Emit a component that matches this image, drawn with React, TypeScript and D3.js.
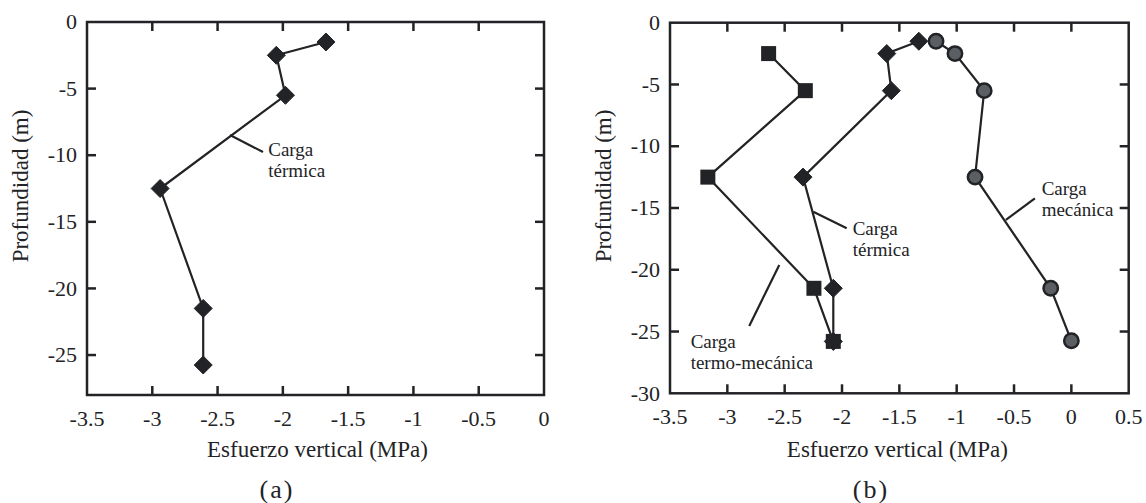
import React from "react";
import * as d3 from "d3";

// ---------- data ----------
// Panel (a): thermal load
const depthA = [-1.5, -2.5, -5.5, -12.5, -21.5, -25.75];
const thermalA = [-1.67, -2.05, -1.98, -2.94, -2.61, -2.61];

// Panel (b)
const depthThermoMechB = [-2.5, -5.5, -12.5, -21.5, -25.8];
const thermoMechB = [-2.64, -2.32, -3.17, -2.245, -2.076];
const depthThermalB = [-1.5, -2.5, -5.5, -12.5, -21.5, -25.8];
const thermalB = [-1.33, -1.61, -1.57, -2.34, -2.076, -2.076];
const depthMechB = [-1.5, -2.5, -5.5, -12.5, -21.5, -25.75];
const mechB = [-1.18, -1.015, -0.76, -0.84, -0.18, 0.0];

// ticks
const xTicksA = [-3.5, -3, -2.5, -2, -1.5, -1, -0.5, 0];
const yTicksA = [0, -5, -10, -15, -20, -25];
const xTicksB = [-3.5, -3, -2.5, -2, -1.5, -1, -0.5, 0, 0.5];
const yTicksB = [0, -5, -10, -15, -20, -25, -30];

// annotations (data units): leader [x1,y1,x2,y2], text anchor [x,y], lines
const annA = [
  { leader: [-2.405, -8.48, -2.152, -9.76], at: [-2.112, -10.06], lines: ["Carga", "térmica"] },
];
const annB = [
  { leader: [-2.251, -15.3, -1.959, -16.64], at: [-1.907, -17.19], lines: ["Carga", "térmica"] },
  { leader: [-0.318, -14.22, -0.571, -15.97], at: [-0.259, -13.95], lines: ["Carga", "mecánica"] },
  { leader: [-2.547, -19.61, -2.809, -24.55], at: [-3.32, -26.36], lines: ["Carga", "termo-mecánica"] },
];

const FONT = "Liberation Serif";
const INK = "#222326";

type Scale = d3.ScaleLinear<number, number>;

const T: React.CSSProperties = { fontFamily: FONT };

function fmt(v: number) {
  return String(v);
}

function Frame({ x, y, xTicks, yTicks }: { x: Scale; y: Scale; xTicks: number[]; yTicks: number[] }) {
  const [x0, x1] = x.range();
  const [y0, y1] = y.range();
  const tl = 9;
  const xd = x.domain();
  const yd = y.domain();
  const innerX = xTicks.filter((t) => t !== xd[0] && t !== xd[1]);
  const innerY = yTicks.filter((t) => t !== yd[0] && t !== yd[1]);
  return (
    <g>
      <rect x={x0} y={y0} width={x1 - x0} height={y1 - y0} fill="none" stroke={INK} strokeWidth={2.5} />
      {innerX.map((t) => (
        <g key={"xt" + t}>
          <line x1={x(t)} x2={x(t)} y1={y1} y2={y1 - tl} stroke={INK} strokeWidth={2.5} />
          <line x1={x(t)} x2={x(t)} y1={y0} y2={y0 + tl} stroke={INK} strokeWidth={2.5} />
        </g>
      ))}
      {innerY.map((t) => (
        <g key={"yt" + t}>
          <line x1={x0} x2={x0 + tl} y1={y(t)} y2={y(t)} stroke={INK} strokeWidth={2.5} />
          <line x1={x1} x2={x1 - tl} y1={y(t)} y2={y(t)} stroke={INK} strokeWidth={2.5} />
        </g>
      ))}
      {xTicks.map((t) => (
        <text key={"xl" + t} x={x(t)} y={y1 + 31} textAnchor="middle" fontSize={22} fill={INK} style={T}>
          {fmt(t)}
        </text>
      ))}
      {yTicks.map((t) => (
        <text key={"yl" + t} x={x0 - 10} y={y(t)} dy="0.33em" textAnchor="end" fontSize={22} fill={INK} style={T}>
          {fmt(t)}
        </text>
      ))}
    </g>
  );
}

function Line({ x, y, xs, ys }: { x: Scale; y: Scale; xs: number[]; ys: number[] }) {
  const pts: [number, number][] = xs.map((v, i) => [v, ys[i]]);
  const gen = d3
    .line<[number, number]>()
    .x((d) => x(d[0]))
    .y((d) => y(d[1]));
  return <path d={gen(pts) || ""} fill="none" stroke={INK} strokeWidth={2.2} />;
}

function Markers({ x, y, xs, ys, kind }: { x: Scale; y: Scale; xs: number[]; ys: number[]; kind: string }) {
  return (
    <g>
      {xs.map((v, i) => {
        const cx = x(v);
        const cy = y(ys[i]);
        if (kind === "diamond") {
          const r = 9;
          return (
            <path
              key={i}
              d={`M${cx},${cy - r}L${cx + r},${cy}L${cx},${cy + r}L${cx - r},${cy}Z`}
              fill={INK}
              stroke={INK}
              strokeWidth={1}
              strokeLinejoin="round"
            />
          );
        }
        if (kind === "square") {
          const s = 7.5;
          return <rect key={i} x={cx - s} y={cy - s} width={2 * s} height={2 * s} fill={INK} />;
        }
        return <circle key={i} cx={cx} cy={cy} r={7.2} fill="#5b5e63" stroke={INK} strokeWidth={2.5} />;
      })}
    </g>
  );
}

function Annotations({ x, y, anns }: { x: Scale; y: Scale; anns: typeof annA }) {
  return (
    <g>
      {anns.map((a, i) => (
        <g key={i}>
          <line x1={x(a.leader[0])} y1={y(a.leader[1])} x2={x(a.leader[2])} y2={y(a.leader[3])} stroke={INK} strokeWidth={2.2} />
          {a.lines.map((l, j) => (
            <text key={j} x={x(a.at[0])} y={y(a.at[1]) + j * 21} fontSize={19} fill={INK} style={T}>
              {l}
            </text>
          ))}
        </g>
      ))}
    </g>
  );
}

export default function App() {
  const xA = d3.scaleLinear().domain([-3.5, 0]).range([87, 544]);
  const yA = d3.scaleLinear().domain([0, -28]).range([22, 395]);
  const xB = d3.scaleLinear().domain([-3.5, 0.5]).range([670, 1128.7]);
  const yB = d3.scaleLinear().domain([0, -30]).range([22.7, 393.3]);

  const midA = (xA.range()[0] + xA.range()[1]) / 2;
  const midB = (xB.range()[0] + xB.range()[1]) / 2;

  return (
    <svg
      width={1146}
      height={503}
      style={{ position: "absolute", left: 0, top: 0, background: "#fff", fontFamily: FONT }}
    >
      <rect width={1146} height={503} fill="#fff" />
      {/* Panel (a) */}
      <Frame x={xA} y={yA} xTicks={xTicksA} yTicks={yTicksA} />
      <Line x={xA} y={yA} xs={thermalA} ys={depthA} />
      <Markers x={xA} y={yA} xs={thermalA} ys={depthA} kind="diamond" />
      <Annotations x={xA} y={yA} anns={annA} />
      <text x={midA + 2} y={457} textAnchor="middle" fontSize={23} fill={INK} style={T}>
        Esfuerzo vertical (MPa)
      </text>
      <text transform={`translate(28,186) rotate(-90)`} textAnchor="middle" fontSize={23} fill={INK} style={T}>
        Profundidad (m)
      </text>
      <text x={277} y={498} textAnchor="middle" fontSize={26} fill={INK} letterSpacing={2} style={T}>
        (a)
      </text>

      {/* Panel (b) */}
      <Frame x={xB} y={yB} xTicks={xTicksB} yTicks={yTicksB} />
      <Line x={xB} y={yB} xs={thermoMechB} ys={depthThermoMechB} />
      <Line x={xB} y={yB} xs={thermalB} ys={depthThermalB} />
      <Line x={xB} y={yB} xs={mechB} ys={depthMechB} />
      <Markers x={xB} y={yB} xs={thermalB} ys={depthThermalB} kind="diamond" />
      <Markers x={xB} y={yB} xs={thermoMechB} ys={depthThermoMechB} kind="square" />
      <Markers x={xB} y={yB} xs={mechB} ys={depthMechB} kind="circle" />
      <Annotations x={xB} y={yB} anns={annB} />
      <text x={midB - 2} y={457} textAnchor="middle" fontSize={23} fill={INK} style={T}>
        Esfuerzo vertical (MPa)
      </text>
      <text transform={`translate(611,186) rotate(-90)`} textAnchor="middle" fontSize={23} fill={INK} style={T}>
        Profundidad (m)
      </text>
      <text x={871} y={498} textAnchor="middle" fontSize={26} fill={INK} letterSpacing={2} style={T}>
        (b)
      </text>
    </svg>
  );
}
